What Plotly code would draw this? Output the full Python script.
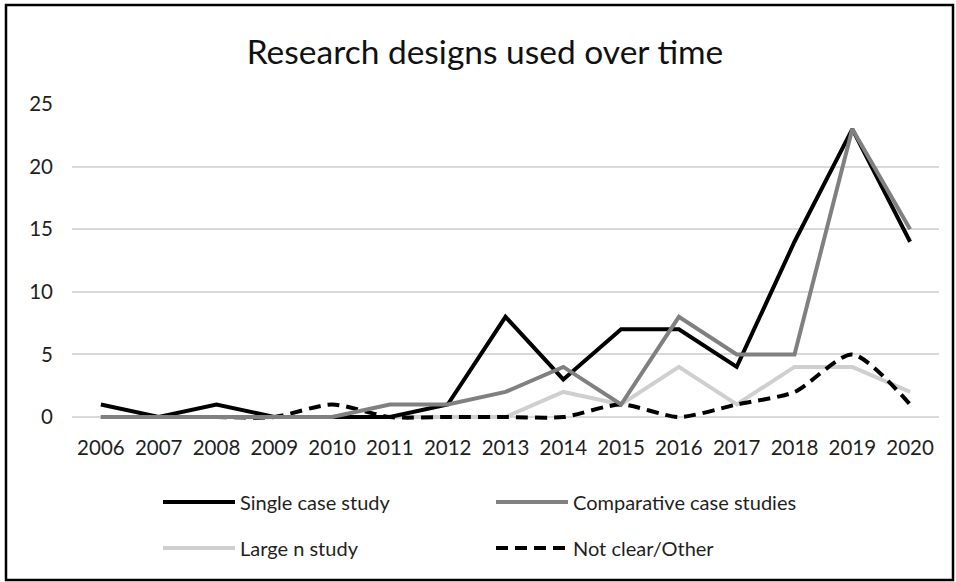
import plotly.graph_objects as go

# Publication years and counts per research design
years = ["2006", "2007", "2008", "2009", "2010", "2011", "2012", "2013",
         "2014", "2015", "2016", "2017", "2018", "2019", "2020"]
single_case = [1, 0, 1, 0, 0, 0, 1, 8, 3, 7, 7, 4, 14, 23, 14]
comparative_case = [0, 0, 0, 0, 0, 1, 1, 2, 4, 1, 8, 5, 5, 23, 15]
large_n = [0, 0, 0, 0, 0, 0, 0, 0, 2, 1, 4, 1, 4, 4, 2]
not_clear = [0, 0, 0, 0, 1, 0, 0, 0, 0, 1, 0, 1, 2, 5, 1]
y_ticks = [0, 5, 10, 15, 20, 25]

W, H = 956, 582
FONT = "Lato"
# plot-area box in pixels
L, R, T, B = 72, 939, 104, 423

fig = go.Figure()
fig.add_trace(go.Scatter(x=years, y=large_n, name="Large n study", mode="lines",
                         line=dict(color="#cfcfcf", width=4), legend="legend2"))
fig.add_trace(go.Scatter(x=years, y=not_clear, name="Not clear/Other", mode="lines",
                         line=dict(color="#000000", width=4, dash="12px,7px",
                                   shape="spline", smoothing=0.7), legend="legend2"))
fig.add_trace(go.Scatter(x=years, y=single_case, name="Single case study", mode="lines",
                         line=dict(color="#000000", width=4), legend="legend"))
fig.add_trace(go.Scatter(x=years, y=comparative_case, name="Comparative case studies",
                         mode="lines", line=dict(color="#808080", width=4), legend="legend"))

# y range so that 0..25 spans the gridlines, with a little room below zero
px_per_unit = (417 - T) / 25.0
y_min = -(B - 417) / px_per_unit

def px_x(p):
    return (p - L) / (R - L)

def px_y(p):
    return (B - p) / (B - T)

legend_common = dict(
    orientation="h", xref="container", yref="container",
    x=158 / W, xanchor="left", yanchor="middle",
    font=dict(family=FONT, size=20, color="#1f1f1f"),
    entrywidth=246, entrywidthmode="pixels", itemwidth=72,
    bgcolor="rgba(0,0,0,0)", traceorder="normal",
)

fig.update_layout(
    width=W, height=H,
    margin=dict(l=L, r=W - R, t=T, b=H - B),
    paper_bgcolor="white", plot_bgcolor="white",
    title=dict(text="Research designs used over time",
               font=dict(family=FONT, size=33.5, color="#111111"),
               x=485 / W, xanchor="center", xref="container",
               y=1 - 52 / H, yanchor="middle", yref="container"),
    xaxis=dict(type="category", range=[-0.5, len(years) - 0.5],
               showgrid=False, zeroline=False, showline=False,
               ticks="", ticklabelstandoff=10,
               tickfont=dict(family=FONT, size=20.5, color="#1f1f1f")),
    yaxis=dict(range=[y_min, 25.0], tickvals=y_ticks,
               showgrid=True, gridcolor="#d9d9d9", gridwidth=2,
               zeroline=False, showline=False, ticks="", ticklabelstandoff=18,
               tickfont=dict(family=FONT, size=20.5, color="#1f1f1f")),
    legend=dict(legend_common, y=1 - 502 / H),
    legend2=dict(legend_common, y=1 - 548 / H),
    shapes=[dict(type="rect", xref="paper", yref="paper",
                 x0=px_x(6), x1=px_x(953), y0=px_y(580), y1=px_y(5),
                 line=dict(color="#000000", width=2.5), layer="above")],
)

fig.write_html("out.html")
